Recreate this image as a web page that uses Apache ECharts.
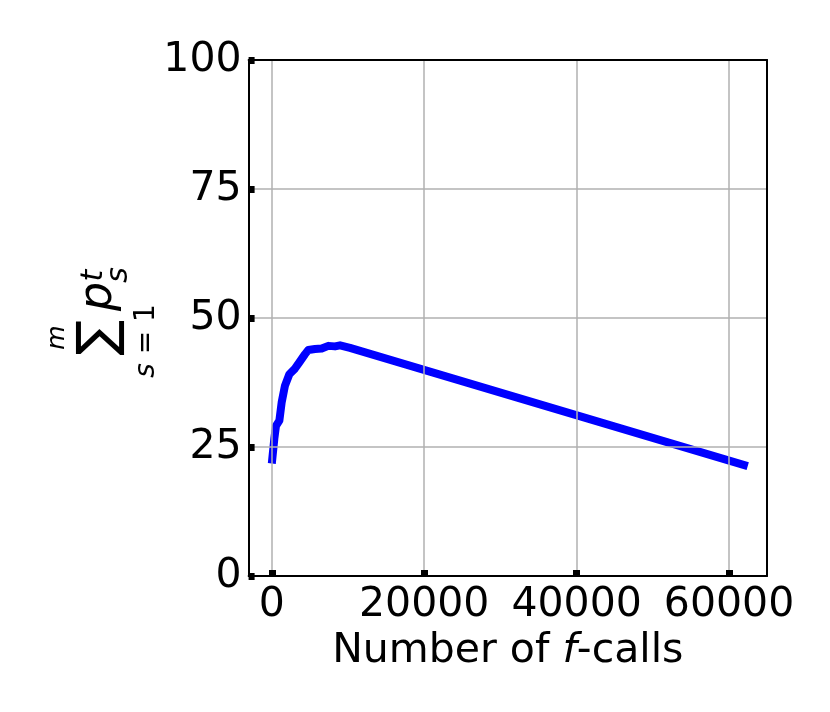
<!DOCTYPE html>
<html>
<head>
<meta charset="utf-8">
<script src="https://cdn.jsdelivr.net/npm/echarts@6/dist/echarts.min.js"></script>
<style>html,body{margin:0;padding:0;background:#fff}#c{width:830px;height:712px}</style>
</head>
<body>
<div id="c"></div>
<script>
var fCalls = [0, 330, 550, 990, 1300, 1730, 2300, 3040, 3610, 4360, 4790, 5670, 6550, 7420, 8290, 8950, 10260, 62450];
var sumP   = [21.8, 26.6, 29.1, 30.1, 33.7, 36.9, 39.1, 40.2, 41.4, 43.0, 43.8, 44.0, 44.1, 44.6, 44.5, 44.7, 44.2, 21.3];
var xTicks = [0, 20000, 40000, 60000];
var yTicks = [0, 25, 50, 75, 100];
var xMin = -3045, xMax = 64980;

var FONT = 'DejaVu Sans';
var FS = 41;
var chart = echarts.init(document.getElementById('c'), null, {renderer: 'canvas'});
var data = fCalls.map(function (x, i) { return [x, sumP[i]]; });
var rot = Math.PI / 2;
function t(x, y, text, size, italic) {
  return {type: 'text', x: x, y: y, rotation: rot, silent: true,
    style: {text: text, x: 0, y: 0, align: 'center', verticalAlign: 'middle',
      font: (italic ? 'italic ' : '') + size + 'px "' + FONT + '"', fill: '#000'}};
}
var spine = {show: true, onZero: false, lineStyle: {color: '#000', width: 2}};
var tick = {show: true, inside: true, length: 6, lineStyle: {color: '#000', width: 7}};
chart.setOption({
  animation: false,
  grid: {left: 248.6, right: 63, top: 60, bottom: 136, containLabel: false},
  xAxis: [{
    type: 'value', min: xMin, max: xMax,
    axisLine: spine,
    axisTick: Object.assign({customValues: xTicks}, tick),
    axisLabel: {customValues: xTicks, fontFamily: FONT, fontSize: FS, color: '#000', margin: 9,
      formatter: function (v) { return String(v); }},
    splitLine: {show: true, lineStyle: {color: '#b0b0b0', width: 1.5}},
    name: '{n|Number of }{i|f}{n|-calls}', nameLocation: 'middle', nameGap: 50,
    nameTextStyle: {rich: {n: {fontFamily: FONT, fontSize: FS, color: '#000'}, i: {fontFamily: FONT, fontStyle: 'italic', fontSize: FS, color: '#000'}}},
    z: 5
  }, {
    type: 'value', position: 'top', min: xMin, max: xMax,
    axisLine: spine, axisTick: {show: false}, axisLabel: {show: false}, splitLine: {show: false}, z: 5
  }],
  yAxis: [{
    type: 'value', min: 0, max: 100, interval: 25,
    axisLine: spine,
    axisTick: tick,
    axisLabel: {fontFamily: FONT, fontSize: FS, color: '#000', margin: 7},
    splitLine: {show: true, lineStyle: {color: '#b0b0b0', width: 1.5}},
    z: 5
  }, {
    type: 'value', position: 'right', min: 0, max: 100, interval: 25,
    axisLine: spine, axisTick: {show: false}, axisLabel: {show: false}, splitLine: {show: false}, z: 5
  }],
  series: [{
    type: 'line', data: data, showSymbol: false, symbol: 'none', z: 3,
    lineStyle: {color: '#0000ff', width: 8, cap: 'butt', join: 'round'}
  }],
  graphic: [
    t(100, 338, '\u2211', 53, false),
    t(57.6, 337.5, 'm', 25, true),
    {type: 'text', x: 146.7, y: 341, rotation: rot, silent: true,
      style: {text: '{i|s}{n| = 1}', x: 0, y: 0, align: 'center', verticalAlign: 'middle',
        rich: {i: {fontFamily: FONT, fontStyle: 'italic', fontSize: 28, color: '#000'},
               n: {fontFamily: FONT, fontSize: 28, color: '#000'}}}},
    t(99.5, 296.5, 'p', 46, true),
    t(119.4, 275, 's', 30, true),
    t(94.4, 275.5, 't', 30, true)
  ]
});
</script>
</body>
</html>
